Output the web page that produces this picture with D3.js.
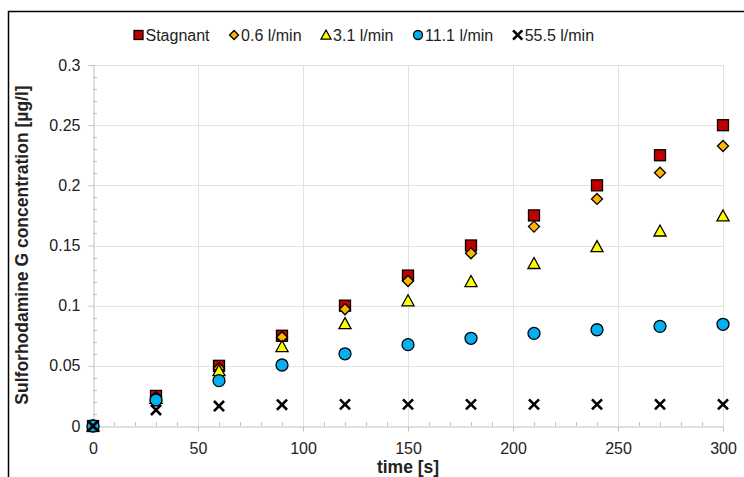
<!DOCTYPE html>
<html lang="en">
<head>
  <meta charset="utf-8">
  <title>Sulforhodamine G concentration</title>
  <script src="https://cdn.jsdelivr.net/npm/d3@7"></script>
  <style>
    body { margin: 0; background: #fff; }
    text { font-family: "Liberation Sans", Arial, sans-serif; }
  </style>
</head>
<body>
  <script>
    // data
    var times = [0, 30, 60, 90, 120, 150, 180, 210, 240, 270, 300];
    var stagnant = [0, 0.025, 0.05, 0.075, 0.1, 0.125, 0.15, 0.175, 0.2, 0.225, 0.25];
    var flow06 = [0, 0.024, 0.048, 0.0737, 0.097, 0.1205, 0.1435, 0.1657, 0.1887, 0.2105, 0.2327];
    var flow31 = [0, 0.023, 0.046, 0.066, 0.085, 0.104, 0.120, 0.135, 0.149, 0.162, 0.1745];
    var flow111 = [0, 0.0216, 0.0377, 0.0507, 0.060, 0.0676, 0.0729, 0.077, 0.080, 0.0828, 0.0845];
    var flow555 = [0, 0.0133, 0.0166, 0.0177, 0.018, 0.018, 0.018, 0.018, 0.018, 0.018, 0.018];
    var seriesNames = ["Stagnant", "0.6 l/min", "3.1 l/min", "11.1 l/min", "55.5 l/min"];
    var xTicks = [0, 50, 100, 150, 200, 250, 300];
    var yTicks = [0, 0.05, 0.1, 0.15, 0.2, 0.25, 0.3];

    var W = 744, H = 477;
    var margin = { top: 65, right: 21, bottom: 51, left: 93 };
    var width = W - margin.left - margin.right;
    var height = H - margin.top - margin.bottom;

    var series = [
      { name: seriesNames[0], values: stagnant, shape: "square", fill: "#C00000" },
      { name: seriesNames[1], values: flow06, shape: "diamond", fill: "#FFB400" },
      { name: seriesNames[2], values: flow31, shape: "triangle", fill: "#FFFF00" },
      { name: seriesNames[3], values: flow111, shape: "circle", fill: "#00B0F0" },
      { name: seriesNames[4], values: flow555, shape: "cross", fill: "none" }
    ];

    var svg = d3.select("body").append("svg")
      .attr("width", W)
      .attr("height", H);

    // outer frame (cut off at right and bottom)
    svg.append("rect")
      .attr("x", 8.5).attr("y", 11.5)
      .attr("width", 800).attr("height", 600)
      .attr("fill", "none")
      .attr("stroke", "#000")
      .attr("stroke-width", 1.5);

    var x = d3.scaleLinear().domain([0, 300]).range([0, width]);
    var y = d3.scaleLinear().domain([0, 0.3]).range([height, 0]);

    var g = svg.append("g")
      .attr("transform", "translate(" + margin.left + "," + margin.top + ")");

    // gridlines
    g.append("g").selectAll("line")
      .data(yTicks.slice(1))
      .enter().append("line")
      .attr("x1", 0).attr("x2", width)
      .attr("y1", function(d) { return Math.round(y(d)) + 0.5; })
      .attr("y2", function(d) { return Math.round(y(d)) + 0.5; })
      .attr("stroke", "#E3E3E3");
    g.append("g").selectAll("line")
      .data(xTicks.slice(1))
      .enter().append("line")
      .attr("y1", 0).attr("y2", height)
      .attr("x1", function(d) { return Math.round(x(d)) + 0.5; })
      .attr("x2", function(d) { return Math.round(x(d)) + 0.5; })
      .attr("stroke", "#E3E3E3");

    // minor ticks (inside)
    var minorX = d3.range(10, 301, 10).filter(function(d) { return d % 50 != 0; });
    var minorY = d3.range(1, 30).map(function(d) { return d / 100; }).filter(function(d, i) { return (i + 1) % 5 != 0; });

    var axisColor = "#BFBFBF";

    g.append("g").selectAll("line")
      .data(minorX)
      .enter().append("line")
      .attr("x1", function(d) { return Math.round(x(d)) + 0.5; })
      .attr("x2", function(d) { return Math.round(x(d)) + 0.5; })
      .attr("y1", height - 4).attr("y2", height)
      .attr("stroke", axisColor);
    g.append("g").selectAll("line")
      .data(minorY)
      .enter().append("line")
      .attr("y1", function(d) { return Math.round(y(d)) + 0.5; })
      .attr("y2", function(d) { return Math.round(y(d)) + 0.5; })
      .attr("x1", 0).attr("x2", 4)
      .attr("stroke", axisColor);

    // axes
    var xAxis = g.append("g")
      .attr("transform", "translate(0," + (height + 0.5) + ")")
      .call(d3.axisBottom(x).tickValues(xTicks).tickSize(5).tickPadding(11).tickFormat(d3.format("d")));
    var yAxis = g.append("g")
      .attr("transform", "translate(0.5,0)")
      .call(d3.axisLeft(y).tickValues(yTicks).tickSize(5).tickPadding(8).tickFormat(function(d) { return +d.toFixed(2) + ""; }));

    [xAxis, yAxis].forEach(function(a) {
      a.select(".domain").attr("stroke", axisColor);
      a.selectAll(".tick line").attr("stroke", axisColor);
      a.selectAll(".tick text")
        .attr("font-family", "Liberation Sans, Arial, sans-serif")
        .attr("font-size", 16)
        .attr("fill", "#222");
    });

    // axis titles
    svg.append("text")
      .attr("x", margin.left + width / 2)
      .attr("y", 473)
      .attr("text-anchor", "middle")
      .attr("font-size", 17.5)
      .attr("font-weight", "bold")
      .attr("fill", "#222")
      .text("time [s]");

    svg.append("text")
      .attr("transform", "translate(28," + (margin.top + height / 2 - 0.5) + ") rotate(-90)")
      .attr("text-anchor", "middle")
      .attr("font-size", 17.5)
      .attr("font-weight", "bold")
      .attr("fill", "#222")
      .text("Sulforhodamine G concentration [µg/l]");

    // marker drawing
    function drawMarker(sel, shape, fill, s) {
      if (shape == "square") {
        sel.append("rect")
          .attr("x", -s / 2).attr("y", -s / 2)
          .attr("width", s).attr("height", s)
          .attr("fill", fill).attr("stroke", "#000").attr("stroke-width", 1.3);
      } else if (shape == "diamond") {
        var r = s * 0.5;
        sel.append("path")
          .attr("d", "M0," + (-r) + "L" + r + ",0L0," + r + "L" + (-r) + ",0Z")
          .attr("fill", fill).attr("stroke", "#000").attr("stroke-width", 1.3);
      } else if (shape == "triangle") {
        var h = s;
        sel.append("path")
          .attr("d", "M0," + (-h * 0.55) + "L" + (s * 0.55) + "," + (h * 0.45) + "L" + (-s * 0.55) + "," + (h * 0.45) + "Z")
          .attr("fill", fill).attr("stroke", "#000").attr("stroke-width", 1.3);
      } else if (shape == "circle") {
        sel.append("circle")
          .attr("r", s / 2)
          .attr("fill", fill).attr("stroke", "#000").attr("stroke-width", 1.3);
      } else {
        var c = s * 0.42;
        sel.append("path")
          .attr("d", "M" + (-c) + "," + (-c) + "L" + c + "," + c + "M" + c + "," + (-c) + "L" + (-c) + "," + c)
          .attr("stroke", "#000").attr("stroke-width", 2.6).attr("fill", "none");
      }
    }

    var sizes = { square: 11, diamond: 11, triangle: 11, circle: 12, cross: 12 };

    series.forEach(function(s) {
      g.append("g").selectAll("g")
        .data(s.values)
        .enter().append("g")
        .attr("transform", function(d, i) {
          return "translate(" + x(times[i]) + "," + y(d) + ")";
        })
        .each(function() { drawMarker(d3.select(this), s.shape, s.fill, sizes[s.shape]); });
    });

    // legend
    var legend = svg.append("g").attr("transform", "translate(0,35)");
    var cx = 138.5;
    series.forEach(function(s) {
      var item = legend.append("g").attr("transform", "translate(" + cx + ",0)");
      drawMarker(item, s.shape, s.fill, s.shape == "cross" ? 11 : 9);
      var t = item.append("text")
        .attr("x", 7)
        .attr("y", 6)
        .attr("font-size", 16)
        .attr("fill", "#222")
        .text(s.name);
      cx += 7 + t.node().getComputedTextLength() + 24.5;
    });
  </script>
</body>
</html>
